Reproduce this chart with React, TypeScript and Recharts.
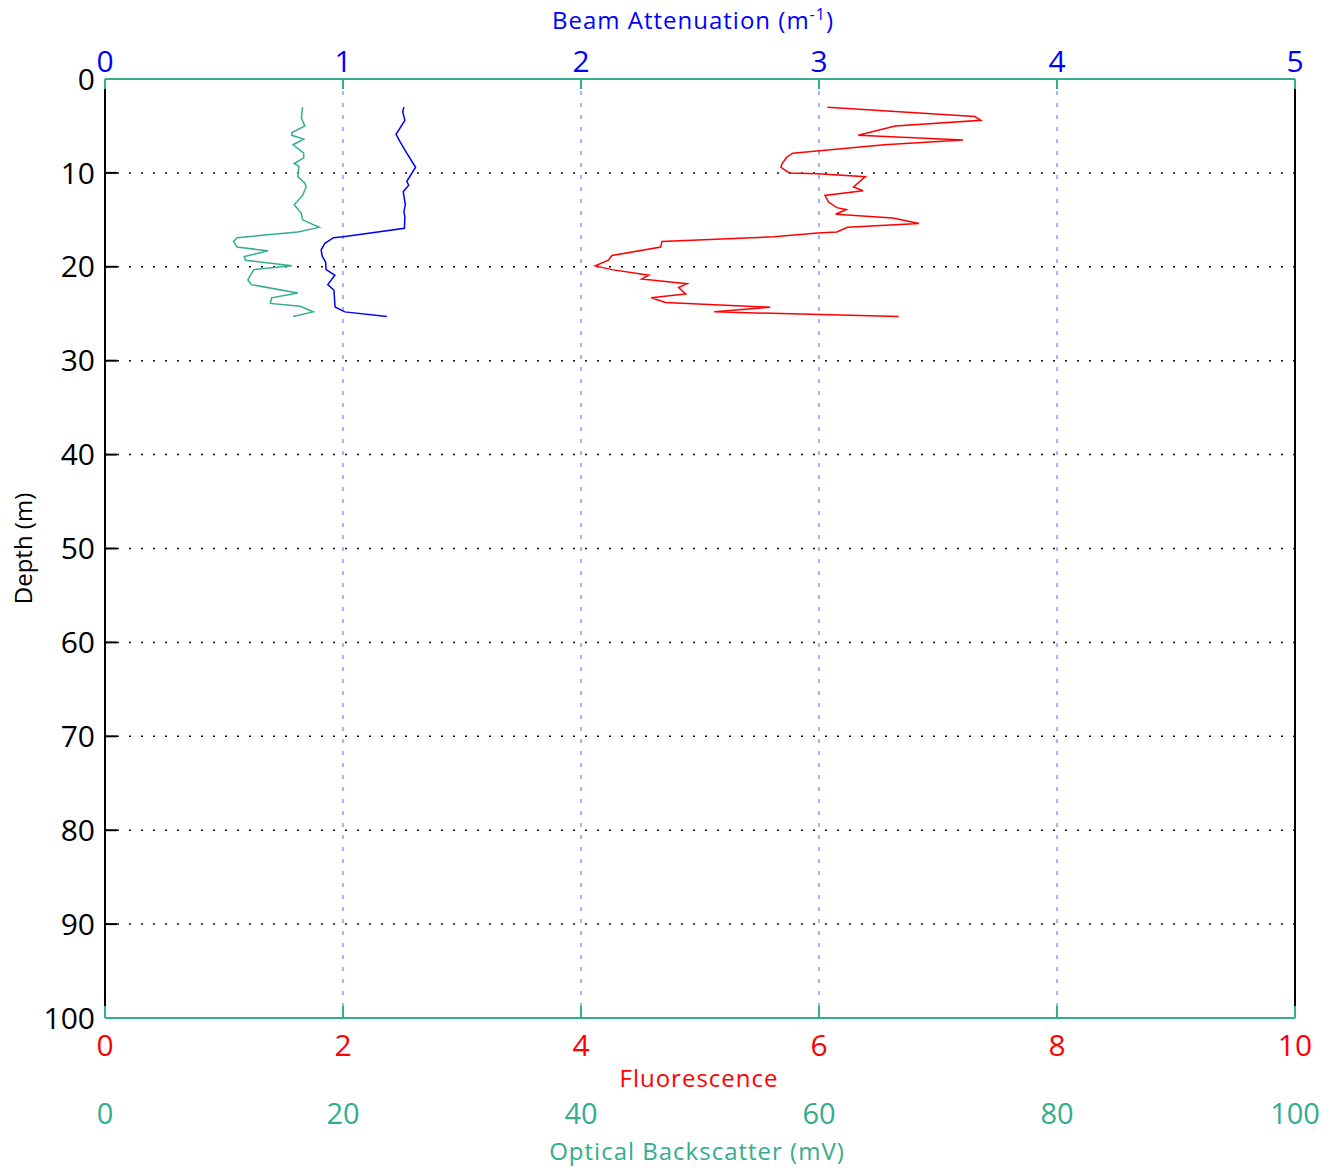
import { LineChart, Line, XAxis, YAxis, CartesianGrid } from 'recharts';

// depth profile, one array per instrument (depth in m)
const fluorescence = [
  { depth: 3.0, value: 6.07 }, { depth: 4.0, value: 7.31 }, { depth: 4.4, value: 7.36 },
  { depth: 5.0, value: 6.64 }, { depth: 6.0, value: 6.33 }, { depth: 6.5, value: 7.21 },
  { depth: 7.0, value: 6.55 }, { depth: 7.9, value: 5.78 }, { depth: 8.3, value: 5.73 },
  { depth: 9.0, value: 5.69 }, { depth: 9.4, value: 5.68 }, { depth: 10.0, value: 5.75 },
  { depth: 10.1, value: 5.99 }, { depth: 10.4, value: 6.39 }, { depth: 11.5, value: 6.29 },
  { depth: 11.9, value: 6.37 }, { depth: 12.4, value: 6.05 }, { depth: 13.1, value: 6.08 },
  { depth: 13.7, value: 6.15 }, { depth: 13.9, value: 6.23 }, { depth: 14.4, value: 6.14 },
  { depth: 14.8, value: 6.62 }, { depth: 15.4, value: 6.84 }, { depth: 15.8, value: 6.24 },
  { depth: 16.3, value: 6.15 }, { depth: 16.4, value: 5.99 }, { depth: 16.8, value: 5.62 },
  { depth: 17.3, value: 4.68 }, { depth: 17.9, value: 4.67 }, { depth: 18.8, value: 4.26 },
  { depth: 19.3, value: 4.23 }, { depth: 19.9, value: 4.12 }, { depth: 20.3, value: 4.26 },
  { depth: 20.9, value: 4.57 }, { depth: 21.3, value: 4.51 }, { depth: 21.8, value: 4.89 },
  { depth: 22.2, value: 4.82 }, { depth: 22.9, value: 4.88 }, { depth: 23.3, value: 4.59 },
  { depth: 23.8, value: 4.71 }, { depth: 24.3, value: 5.59 }, { depth: 24.8, value: 5.12 },
  { depth: 25.3, value: 6.67 },
];

const beamAttenuation = [
  { depth: 3.0, value: 1.256 }, { depth: 3.5, value: 1.251 }, { depth: 4.4, value: 1.26 },
  { depth: 5.9, value: 1.223 }, { depth: 6.7, value: 1.24 }, { depth: 7.9, value: 1.268 },
  { depth: 9.4, value: 1.305 }, { depth: 10.9, value: 1.268 }, { depth: 11.3, value: 1.276 },
  { depth: 12.0, value: 1.253 }, { depth: 13.4, value: 1.262 }, { depth: 14.1, value: 1.256 },
  { depth: 14.7, value: 1.26 }, { depth: 15.9, value: 1.258 }, { depth: 16.8, value: 1.001 },
  { depth: 16.9, value: 0.96 }, { depth: 17.5, value: 0.924 }, { depth: 18.2, value: 0.908 },
  { depth: 18.9, value: 0.913 }, { depth: 19.5, value: 0.927 }, { depth: 20.3, value: 0.929 },
  { depth: 20.9, value: 0.966 }, { depth: 21.9, value: 0.936 }, { depth: 22.5, value: 0.962 },
  { depth: 24.1, value: 0.966 }, { depth: 24.3, value: 0.968 }, { depth: 24.8, value: 1.008 },
  { depth: 25.3, value: 1.184 },
];

const backscatter = [
  { depth: 3.0, value: 16.6 }, { depth: 4.2, value: 16.5 }, { depth: 5.0, value: 16.8 },
  { depth: 5.7, value: 15.7 }, { depth: 6.0, value: 15.7 }, { depth: 6.4, value: 16.7 },
  { depth: 7.0, value: 15.8 }, { depth: 7.9, value: 16.7 }, { depth: 8.4, value: 16.7 },
  { depth: 9.0, value: 15.9 }, { depth: 9.3, value: 16.3 }, { depth: 10.4, value: 16.2 },
  { depth: 11.1, value: 16.8 }, { depth: 11.5, value: 16.9 }, { depth: 12.4, value: 16.6 },
  { depth: 13.4, value: 15.9 }, { depth: 14.3, value: 16.5 }, { depth: 15.0, value: 16.6 },
  { depth: 15.8, value: 18.0 }, { depth: 16.3, value: 16.2 }, { depth: 16.9, value: 11.1 },
  { depth: 17.3, value: 10.8 }, { depth: 17.9, value: 11.1 }, { depth: 18.3, value: 13.7 },
  { depth: 18.9, value: 11.7 }, { depth: 19.3, value: 11.8 }, { depth: 19.9, value: 15.7 },
  { depth: 20.3, value: 12.5 }, { depth: 21.4, value: 12.0 }, { depth: 21.9, value: 12.3 },
  { depth: 22.8, value: 16.2 }, { depth: 23.3, value: 14.0 }, { depth: 23.9, value: 13.9 },
  { depth: 24.2, value: 16.4 }, { depth: 24.8, value: 17.5 }, { depth: 25.3, value: 15.8 },
];

const depthTicks = [0, 10, 20, 30, 40, 50, 60, 70, 80, 90, 100];
const beamTicks = [0, 1, 2, 3, 4, 5];
const fluorTicks = [0, 2, 4, 6, 8, 10];
const backscatterTicks = [0, 20, 40, 60, 80, 100];

const RED = '#ff0000';
const BLUE = '#0000ff';
const TEAL = '#33ad8d';
const FONT = '"Open Sans", sans-serif';

const depthTick = { fill: '#000', fontSize: 30, fontFamily: FONT };
const beamTick = { fill: BLUE, fontSize: 30, fontFamily: FONT };
const fluorTick = { fill: RED, fontSize: 30, fontFamily: FONT };
const bsTick = { fill: TEAL, fontSize: 29, fontFamily: FONT };
const blackLine = { stroke: '#000', strokeWidth: 2 };
const tealLine = { stroke: TEAL, strokeWidth: 2 };

const BeamLabel = ({ viewBox }: any) => (
  <text
    x={viewBox.x + viewBox.width / 2 - 7}
    y={viewBox.y + 29}
    textAnchor="middle"
    fill={BLUE}
    fontSize={24}
    fontFamily={FONT}
    letterSpacing={1}
  >
    Beam Attenuation (m
    <tspan dy={-9} fontSize={16}>-1</tspan>
    <tspan dy={9}>)</tspan>
  </text>
);

const DepthLabel = ({ viewBox }: any) => {
  const cx = viewBox.x + 32;
  const cy = viewBox.y + viewBox.height / 2;
  return (
    <text
      x={cx}
      y={cy}
      transform={`rotate(-90, ${cx}, ${cy})`}
      textAnchor="middle"
      fill="#000"
      fontSize={24}
      fontFamily={FONT}
    >
      Depth (m)
    </text>
  );
};

const FluorLabel = ({ viewBox }: any) => (
  <text
    x={viewBox.x + viewBox.width / 2 - 1}
    y={viewBox.y + 69}
    textAnchor="middle"
    fill={RED}
    fontSize={24}
    fontFamily={FONT}
    letterSpacing={1}
  >
    Fluorescence
  </text>
);

const BackscatterLabel = ({ viewBox }: any) => (
  <text
    x={viewBox.x + viewBox.width / 2 - 3}
    y={viewBox.y + 68}
    textAnchor="middle"
    fill={TEAL}
    fontSize={24}
    fontFamily={FONT}
    letterSpacing={1}
  >
    Optical Backscatter (mV)
  </text>
);

export default function App() {
  return (
    <div style={{ position: 'absolute', left: 0, top: 0, background: '#fff' }}>
      <LineChart
        width={1333}
        height={1172}
        layout="vertical"
        margin={{ top: 0, right: 0, bottom: 0, left: 0 }}
        style={{ fontFamily: FONT }}
      >
        <CartesianGrid
          xAxisId="beam"
          yAxisId="depth"
          horizontal={false}
          stroke="#4a66ff"
          strokeDasharray="4 8"
        />
        <CartesianGrid
          xAxisId="beam"
          yAxisId="depth"
          vertical={false}
          stroke="#111"
          strokeWidth={1.5}
          strokeDasharray="2 10"
        />

        <YAxis
          yAxisId="depth"
          dataKey="depth"
          type="number"
          domain={[0, 100]}
          ticks={depthTicks}
          width={105}
          tickSize={-12}
          tickMargin={22}
          tick={depthTick}
          axisLine={blackLine}
          tickLine={blackLine}
          label={DepthLabel}
        />
        <YAxis
          yAxisId="right"
          orientation="right"
          dataKey="depth"
          type="number"
          domain={[0, 100]}
          ticks={depthTicks}
          width={38}
          tickSize={-12}
          tick={false}
          axisLine={blackLine}
          tickLine={blackLine}
        />

        <XAxis
          xAxisId="beam"
          orientation="top"
          type="number"
          domain={[0, 5]}
          ticks={beamTicks}
          height={79}
          tickSize={-10}
          tickMargin={17}
          tick={beamTick}
          axisLine={tealLine}
          tickLine={tealLine}
          label={BeamLabel}
        />
        <XAxis
          xAxisId="fluor"
          orientation="bottom"
          type="number"
          domain={[0, 10]}
          ticks={fluorTicks}
          height={74}
          tickSize={-12}
          tickMargin={29}
          tick={fluorTick}
          axisLine={tealLine}
          tickLine={tealLine}
          label={FluorLabel}
        />
        <XAxis
          xAxisId="scatter"
          orientation="bottom"
          type="number"
          domain={[0, 100]}
          ticks={backscatterTicks}
          height={80}
          tickSize={0}
          tickMargin={11}
          tick={bsTick}
          axisLine={false}
          tickLine={false}
          label={BackscatterLabel}
        />

        <Line
          data={backscatter}
          xAxisId="scatter"
          yAxisId="depth"
          dataKey="value"
          type="linear"
          stroke={TEAL}
          strokeWidth={1.5}
          dot={false}
          isAnimationActive={false}
        />
        <Line
          data={beamAttenuation}
          xAxisId="beam"
          yAxisId="depth"
          dataKey="value"
          type="linear"
          stroke={BLUE}
          strokeWidth={1.5}
          dot={false}
          isAnimationActive={false}
        />
        <Line
          data={fluorescence}
          xAxisId="fluor"
          yAxisId="depth"
          dataKey="value"
          type="linear"
          stroke={RED}
          strokeWidth={1.5}
          dot={false}
          isAnimationActive={false}
        />
      </LineChart>
    </div>
  );
}
